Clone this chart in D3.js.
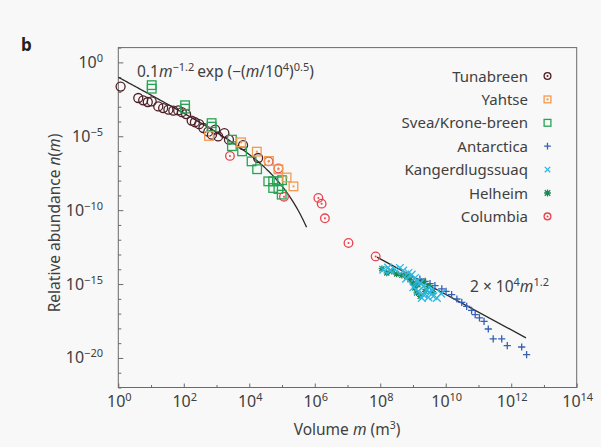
<!DOCTYPE html>
<html>
<head>
<meta charset="utf-8">
<script src="https://cdn.jsdelivr.net/npm/d3@7"></script>
<style>
body { margin: 0; background: #f8f8f8; }
svg { font-family: "Noto Sans", sans-serif; }
</style>
</head>
<body>
<svg id="chart" width="601" height="447"></svg>
<script>
// every value is a base-10 exponent: [log10 m, log10 n(m)]
var tunabreen = [[0.07,-1.64],[0.61,-2.41],[0.76,-2.57],[0.90,-2.68],[1.02,-2.64],[1.22,-2.98],
    [1.37,-3.09],[1.53,-3.20],[1.68,-3.27],[1.83,-3.25],[1.94,-3.37],[2.07,-3.50],[2.24,-3.94],
    [2.34,-4.05],[2.47,-4.18],[2.60,-4.44],[2.75,-4.69],[2.86,-4.89],[2.96,-4.55],[3.05,-5.01],
    [3.24,-4.79],[3.38,-5.23],[3.81,-5.60],[4.27,-6.47]];
var yahtse = [[2.77,-4.98],[3.75,-5.41],[4.23,-6.04],[4.60,-6.67],[4.89,-7.24],[5.14,-7.79],[5.35,-8.39]];
var svea = [[1.02,-1.54],[1.02,-1.78],[2.04,-2.90],[2.04,-3.13],[2.85,-4.11],[2.85,-4.35],
    [3.47,-5.23],[3.47,-5.67],[3.78,-6.02],[4.07,-6.70],[4.24,-7.23],[4.58,-8.05],[4.73,-8.05],
    [4.89,-8.05],[5.00,-7.97],[4.73,-8.50],[4.89,-8.57],[4.99,-8.95]];
var antarctica = [[9.21,-14.67],[9.37,-14.82],[9.52,-14.97],[9.67,-15.11],[9.88,-15.33],[10.01,-15.49],
    [10.18,-15.72],[10.34,-16.01],[10.49,-16.24],[10.64,-16.51],[10.79,-16.78],[10.90,-17.07],
    [11.03,-17.29],[11.17,-17.52],[11.30,-18.04],[11.45,-18.71],[11.71,-18.71],[11.88,-19.17],
    [12.32,-19.26],[12.47,-19.78]];
var kanger = [[8.09,-14.03],[8.24,-13.89],[8.30,-14.09],[8.45,-14.03],[8.60,-13.91],[8.70,-14.09],
    [8.86,-14.25],[8.96,-14.36],[9.06,-14.59],[9.11,-14.82],[9.22,-14.93],[9.32,-15.16],[9.42,-15.38],
    [9.52,-15.60],[9.62,-15.83],[9.73,-15.94],[9.47,-15.90],[9.32,-15.72],[9.16,-15.49],[9.01,-15.22],
    [9.27,-15.94],[9.57,-15.38],[9.86,-15.65],[8.79,-14.63]];
var helheim = [[8.05,-13.96],[8.20,-14.25],[8.35,-14.14],[8.50,-14.32],[8.66,-14.41],[8.81,-14.48],
    [8.91,-14.70],[9.01,-14.93],[9.06,-15.26],[9.11,-15.60],[9.22,-15.83],[9.37,-15.49],[9.47,-15.16],
    [9.32,-14.82],[9.15,-15.04],[9.61,-15.51]];
var columbia = [[3.41,-6.33],[4.59,-6.70],[4.89,-7.18],[5.06,-9.09],[6.11,-9.17],[6.21,-9.56],
    [6.31,-10.55],[7.03,-12.22],[7.86,-13.13]];

var xTickExp = d3.range(0, 15);
var xLabelExp = [0, 2, 4, 6, 8, 10, 12, 14];
var yTickExp = d3.range(-22, 2);
var yLabelExp = [0, -5, -10, -15, -20];

var seriesNames = ["Tunabreen","Yahtse","Svea/Krone-breen","Antarctica","Kangerdlugssuaq","Helheim","Columbia"];
var seriesColors = ["#4e1f27","#f29a4e","#27a354","#3560b4","#2cb8e2","#1d8658","#e9434d"];
var seriesData = [tunabreen, yahtse, svea, antarctica, kanger, helheim, columbia];
var seriesShapes = ["circle","dotsquare","square","plus","cross","star","dotcircle"];

// fitted models
var fitRange = [0, 5.75];
var fitLaw = function(m){ return 0.1 * Math.pow(m, -1.2) * Math.exp(-Math.sqrt(m / 1e4)); };
var powRange = [7.9, 12.45];
var powLaw = function(m){ return 2e-4 * Math.pow(m, -1.2); };

var svg = d3.select("#chart");
var x = d3.scaleLog().domain([1, 1e14]).range([118.3, 576.7]);
var y = d3.scaleLog().domain([1e-22, 1e1]).range([387.5, 47.6]);
var txt = "#404040";

// frame
svg.append("rect")
    .attr("x", x(1)).attr("y", y(10))
    .attr("width", x(1e14) - x(1)).attr("height", y(1e-22) - y(10))
    .attr("fill", "none").attr("stroke", "#6a6a6a").attr("stroke-width", 1);

// ticks
var xAxis = svg.append("g")
    .attr("transform", "translate(0," + y(1e-22) + ")")
    .call(d3.axisBottom(x).tickValues(xTickExp.map(e => Math.pow(10, e))).tickSize(-3).tickFormat(""));
xAxis.select(".domain").remove();
xAxis.selectAll("line").attr("stroke", "#6a6a6a")
    .attr("y2", d => Math.round(Math.log10(d)) % 2 == 0 ? -4 : -2.5);

var yAxis = svg.append("g")
    .attr("transform", "translate(" + x(1) + ",0)")
    .call(d3.axisLeft(y).tickValues(yTickExp.map(e => Math.pow(10, e))).tickSize(-3).tickFormat(""));
yAxis.select(".domain").remove();
yAxis.selectAll("line").attr("stroke", "#6a6a6a")
    .attr("x2", d => Math.round(Math.log10(d)) % 5 == 0 ? 5 : 3);

// tick labels with superscript exponents
function powLabel(sel, e){
    sel.append("tspan").text("10");
    sel.append("tspan").attr("dy", -6).attr("font-size", 11).text(e < 0 ? "\u2212" + (-e) : e);
}
xLabelExp.forEach(function(e){
    svg.append("text").attr("x", x(Math.pow(10, e)) + 1).attr("y", 407)
        .attr("text-anchor", "middle").attr("font-size", 16).attr("fill", txt)
        .call(powLabel, e);
});
yLabelExp.forEach(function(e){
    svg.append("text").attr("x", 103).attr("y", y(Math.pow(10, e)) + 5.5)
        .attr("text-anchor", "end").attr("font-size", 16).attr("fill", txt)
        .call(powLabel, e);
});

// axis titles
var xt = svg.append("text").attr("x", 347).attr("y", 435).attr("text-anchor", "middle")
    .attr("font-size", 15.5).attr("fill", txt);
xt.append("tspan").text("Volume ");
xt.append("tspan").attr("font-style", "italic").text("m");
xt.append("tspan").text(" (m");
xt.append("tspan").attr("dy", -6).attr("font-size", 10.5).text("3");
xt.append("tspan").attr("dy", 6).text(")");

var yt = svg.append("text").attr("transform", "translate(60,223) rotate(-90)")
    .attr("text-anchor", "middle").attr("font-size", 15.5).attr("fill", txt);
yt.append("tspan").text("Relative abundance ");
yt.append("tspan").attr("font-style", "italic").text("n");
yt.append("tspan").text("(");
yt.append("tspan").attr("font-style", "italic").text("m");
yt.append("tspan").text(")");

svg.append("text").attr("x", 21).attr("y", 51).attr("font-size", 17)
    .attr("font-weight", "bold").attr("fill", "#222").text("b");

// model lines
var line = d3.line().x(d => x(d[0])).y(d => y(d[1]));
var fitPts = d3.range(fitRange[0], fitRange[1] + 0.001, 0.05).map(e => [Math.pow(10, e), fitLaw(Math.pow(10, e))]);
var powPts = powRange.map(e => [Math.pow(10, e), powLaw(Math.pow(10, e))]);
[fitPts, powPts].forEach(function(p){
    svg.append("path").attr("d", line(p)).attr("fill", "none")
        .attr("stroke", "#2a2a2a").attr("stroke-width", 1.3);
});

// markers
function drawMarker(g, shape, color, s){
    var r = s;
    if (shape == "circle" || shape == "dotcircle") {
        g.append("circle").attr("r", r).attr("fill", "none").attr("stroke", color).attr("stroke-width", 1.3);
        if (shape == "dotcircle" || s < 4) g.append("circle").attr("r", 1).attr("fill", color);
    } else if (shape == "square" || shape == "dotsquare") {
        g.append("rect").attr("x", -r).attr("y", -r).attr("width", 2 * r).attr("height", 2 * r)
            .attr("fill", "none").attr("stroke", color).attr("stroke-width", 1.3);
        if (shape == "dotsquare") g.append("rect").attr("x", -1).attr("y", -1).attr("width", 2).attr("height", 2).attr("fill", color);
    } else {
        var a = r * 0.8, d = "";
        if (shape == "plus" || shape == "star") d += "M" + (-r) + ",0H" + r + "M0," + (-r) + "V" + r;
        if (shape == "cross" || shape == "star") d += "M" + (-a) + "," + (-a) + "L" + a + "," + a + "M" + (-a) + "," + a + "L" + a + "," + (-a);
        g.append("path").attr("d", d).attr("stroke", color).attr("stroke-width", 1.3).attr("fill", "none");
    }
}
var markerSize = [4.5, 4.3, 4.3, 3.6, 4.8, 3.2, 4.3];
var drawOrder = [6, 0, 2, 1, 3, 5, 4];
drawOrder.forEach(function(i){
    svg.append("g").selectAll("g").data(seriesData[i]).enter().append("g")
        .attr("transform", d => "translate(" + x(Math.pow(10, d[0])) + "," + y(Math.pow(10, d[1])) + ")")
        .each(function(){ drawMarker(d3.select(this), seriesShapes[i], seriesColors[i], markerSize[i]); });
});

// legend
var leg = svg.append("g");
seriesNames.forEach(function(n, i){
    var yy = 76 + i * 23.4;
    leg.append("text").attr("x", 528).attr("y", yy + 5.5).attr("text-anchor", "end")
        .attr("font-size", 15).attr("fill", txt).text(n);
    var g = leg.append("g").attr("transform", "translate(547.5," + yy + ")");
    drawMarker(g, seriesShapes[i], seriesColors[i], 3.4);
});

// model labels
var f1 = svg.append("text").attr("x", 137).attr("y", 77).attr("font-size", 15.5).attr("fill", txt);
f1.append("tspan").text("0.1");
f1.append("tspan").attr("font-style", "italic").text("m");
f1.append("tspan").attr("dy", -6).attr("font-size", 11).text("\u22121.2");
f1.append("tspan").attr("dy", 6).attr("dx", 3).text("exp (\u2212(");
f1.append("tspan").attr("font-style", "italic").text("m");
f1.append("tspan").text("/10");
f1.append("tspan").attr("dy", -6).attr("font-size", 11).text("4");
f1.append("tspan").attr("dy", 6).text(")");
f1.append("tspan").attr("dy", -6).attr("font-size", 11).text("0.5");
f1.append("tspan").attr("dy", 6).text(")");

var f2 = svg.append("text").attr("x", 470).attr("y", 292).attr("font-size", 15.5).attr("fill", txt);
f2.append("tspan").text("2 \u00d7 10");
f2.append("tspan").attr("dy", -6).attr("font-size", 11).text("4");
f2.append("tspan").attr("dy", 6).attr("font-style", "italic").text("m");
f2.append("tspan").attr("dy", -6).attr("font-size", 11).text("1.2");
</script>
</body>
</html>
